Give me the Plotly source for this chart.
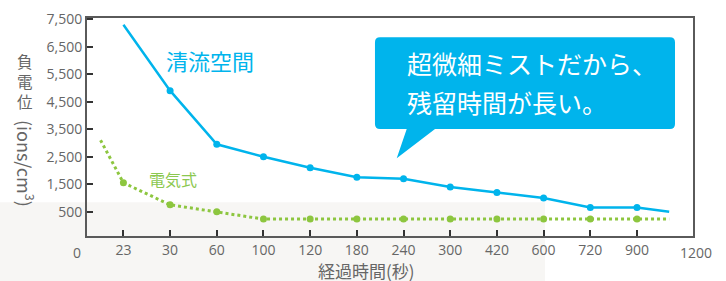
import plotly.graph_objects as go

# ---- data ----
x_labels = ["23", "30", "60", "100", "120", "180", "240", "300", "420", "600", "720", "900"]
x_pos = [1, 2, 3, 4, 5, 6, 7, 8, 9, 10, 11, 12]

# 清流空間 (blue): start point (off-top), points at ticks, end point
blue_x = [1, 2, 3, 4, 5, 6, 7, 8, 9, 10, 11, 12, 12.69]
blue_y = [7300, 4900, 2950, 2500, 2100, 1750, 1700, 1400, 1200, 1000, 650, 650, 500]
blue_marker = [False, True, True, True, True, True, True, True, True, True, True, True, False]

# 電気式 (green)
green_x = [0.51, 1, 2, 3, 4, 5, 6, 7, 8, 9, 10, 11, 12, 12.69]
green_y = [3100, 1550, 750, 500, 230, 230, 230, 230, 230, 230, 230, 230, 230, 230]
green_marker = [False, True, True, True, True, True, True, True, True, True, True, True, True, False]

y_ticks = [500, 1500, 2500, 3500, 4500, 5500, 6500, 7500]

BLUE = "#00B4EC"
GREEN = "#8DC63F"
AX = "#5a5a5a"
TXT = "#666666"
FONT = "Noto Sans CJK JP"

fig = go.Figure()

# lines
fig.add_trace(go.Scatter(x=blue_x, y=blue_y, mode="lines",
                         line=dict(color=BLUE, width=2.5), hoverinfo="skip", showlegend=False))
fig.add_trace(go.Scatter(x=[x for x, m in zip(blue_x, blue_marker) if m],
                         y=[y for y, m in zip(blue_y, blue_marker) if m],
                         mode="markers", marker=dict(color=BLUE, size=7), showlegend=False))
fig.add_trace(go.Scatter(x=green_x, y=green_y, mode="lines",
                         line=dict(color=GREEN, width=3, dash="dot"), hoverinfo="skip", showlegend=False))
fig.add_trace(go.Scatter(x=[x for x, m in zip(green_x, green_marker) if m],
                         y=[y for y, m in zip(green_y, green_marker) if m],
                         mode="markers", marker=dict(color=GREEN, size=7), showlegend=False))

# background band
fig.add_shape(type="rect", xref="paper", yref="paper", x0=-0.1436, x1=0.7558, y0=-0.21, y1=0.155,
              fillcolor="#f7f6f4", line=dict(width=0), layer="below")

# speech bubble
L, R, T, B = 0.4752, 0.9703, 0.9115, 0.4908
rx, ry = 0.0083, 0.0229
path = (f"M {L+rx},{T} L {R-rx},{T} Q {R},{T} {R},{T-ry} L {R},{B+ry} Q {R},{B} {R-rx},{B} "
        f"L 0.5743,{B} L 0.5111,0.3564 L 0.5276,{B} L {L+rx},{B} Q {L},{B} {L},{B+ry} "
        f"L {L},{T-ry} Q {L},{T} {L+rx},{T} Z")
fig.add_shape(type="path", xref="paper", yref="paper", path=path,
              fillcolor=BLUE, line=dict(width=0))

ann = [
    dict(text="超微細ミストだから、", x=0.5248, y=0.792, xanchor="left", yanchor="middle",
         font=dict(size=25, color="white", family=FONT)),
    dict(text="残留時間が長い。", x=0.5248, y=0.616, xanchor="left", yanchor="middle",
         font=dict(size=25, color="white", family=FONT)),
    dict(text="清流空間", x=(210-87)/606, y=(236-60)/218, xanchor="center", yanchor="middle",
         font=dict(size=22, color=BLUE, family=FONT)),
    dict(text="電気式", x=(173-87)/606, y=(236-179)/218, xanchor="center", yanchor="middle",
         font=dict(size=16, color="#8CC850", family=FONT)),
    dict(text="0", x=(76.7-87)/606, y=(236-252)/218, xanchor="center", yanchor="middle",
         font=dict(size=14, color=TXT, family="Open Sans")),
    dict(text="1200", x=(696-87)/606, y=(236-252)/218, xanchor="center", yanchor="middle",
         font=dict(size=14, color=TXT, family="Open Sans")),
    dict(text="経過時間(秒)", x=(366-87)/606, y=(236-270)/218, xanchor="center", yanchor="middle",
         font=dict(size=17, color=TXT, family=FONT)),
    dict(text="負<br>電<br>位", x=(25-87)/606, y=(236-81)/218, xanchor="center", yanchor="middle",
         font=dict(size=15.5, color=TXT, family=FONT)),
    dict(text="(ions/cm<sup>3</sup>)", x=(26-87)/606, y=(236-163)/218, xanchor="center", yanchor="middle",
         textangle=90, font=dict(size=18, color=TXT, family=FONT)),
]
for a in ann:
    a.update(xref="paper", yref="paper", showarrow=False)
    fig.add_annotation(**a)

fig.update_xaxes(range=[0.22, 13.2], tickvals=x_pos, ticktext=x_labels,
                 ticks="inside", ticklen=6, tickcolor="#333", tickwidth=1.5,
                 showline=True, linecolor=AX, linewidth=2, mirror=True, showgrid=False, zeroline=False,
                 tickfont=dict(size=14, color=TXT, family="Open Sans"), automargin=False)
fig.update_yaxes(range=[-384, 7543], tickvals=y_ticks, tickformat=",",
                 ticks="inside", ticklen=6, tickcolor="#333", tickwidth=1.5,
                 showline=True, linecolor=AX, linewidth=2, mirror=True, showgrid=False, zeroline=False,
                 tickfont=dict(size=14, color=TXT, family="Open Sans"), automargin=False)

fig.update_layout(width=726, height=281, margin=dict(l=87, r=33, t=18, b=45),
                  paper_bgcolor="white", plot_bgcolor="rgba(0,0,0,0)")

fig.write_html("out.html", config={"displayModeBar": False},
               post_script="document.body.style.margin='0';")
